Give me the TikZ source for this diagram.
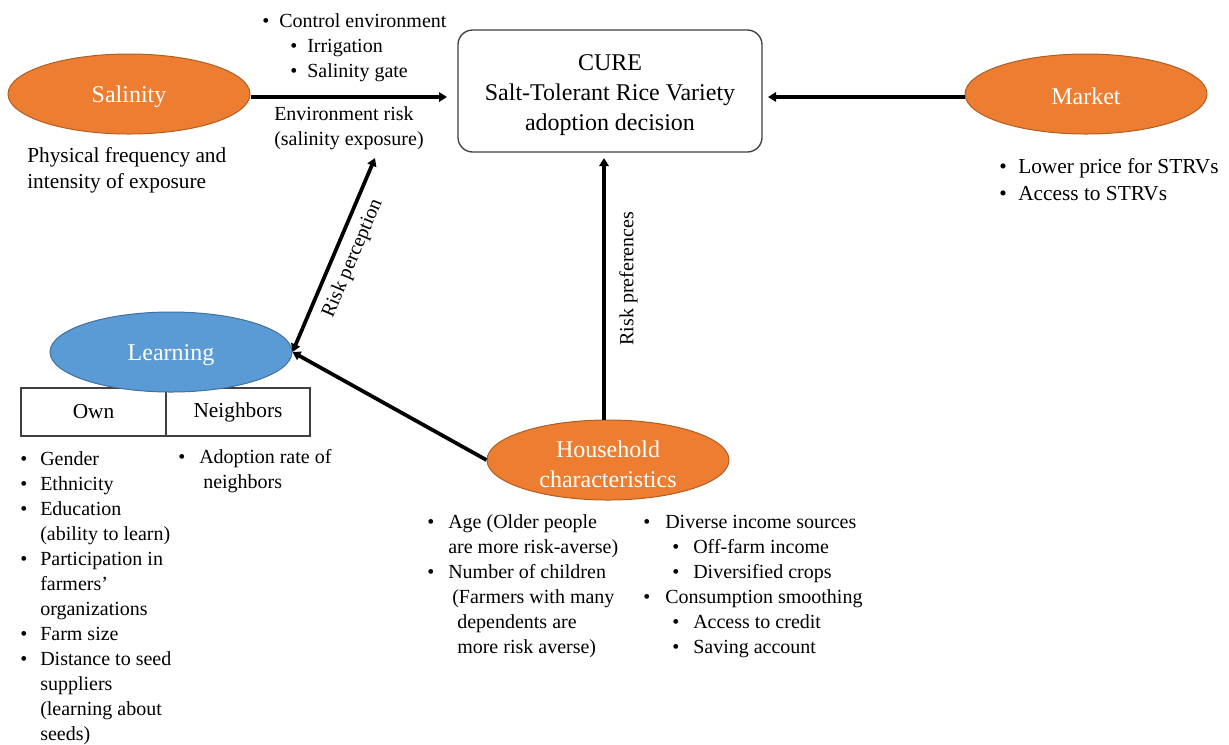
\documentclass[tikz,border=0pt]{standalone}
\usepackage{fontspec}
\setmainfont{Liberation Serif}
\usetikzlibrary{shapes.geometric,arrows.meta}
\definecolor{orangeF}{HTML}{ED7D31}
\definecolor{orangeD}{HTML}{B25D22}
\definecolor{blueF}{HTML}{5B9BD5}
\definecolor{blueD}{HTML}{41719C}
\definecolor{boxD}{HTML}{404040}
\begin{document}
\begin{tikzpicture}[x=0.75pt,y=-0.75pt,
  oval/.style={ellipse, draw=orangeD, line width=0.75pt, fill=orangeF, text=white,
    minimum width=181.5pt, minimum height=60pt, inner sep=0pt,
    font=\fontsize{18}{22.5}\selectfont, align=center,
    execute at begin node={\rule{0pt}{16.5pt}}},
  blueoval/.style={oval, draw=blueD, fill=blueF},
  ovaltext/.style={inner sep=0pt, text=white, font=\fontsize{18}{22.5}\selectfont, align=center},
  decision/.style={draw=boxD, line width=1pt, rounded corners=11pt, fill=white,
    minimum width=228pt, minimum height=91.5pt, inner sep=0pt},
  decisiontext/.style={inner sep=0pt, font=\fontsize{18}{22.5}\selectfont, align=center},
  cell/.style={draw=boxD, line width=0.9pt, minimum height=36pt, inner sep=0pt,
    font=\fontsize{16}{19}\selectfont},
  lst/.style={inner sep=0pt, anchor=base west, font=\fontsize{15}{18}\selectfont},
  lstb/.style={lst, font=\fontsize{16}{19}\selectfont},
  arr/.style={line width=2.8pt, -{Triangle[length=6pt,width=7pt]}},
  arrtwo/.style={line width=2.8pt, {Triangle[length=6pt,width=7pt]}-{Triangle[length=6pt,width=7pt]}},
  edgelab/.style={inner sep=6pt, font=\fontsize{15}{18}\selectfont}
]
\useasboundingbox (0,0) rectangle (1229,744);

% main nodes
\node[oval] (sal) at (129,94) {Salinity};
\node[decision] (cure) at (610,91) {};
\node[decisiontext] (curetext) at (610,95) {CURE\\Salt-Tolerant Rice Variety\\adoption decision};
\node[oval] (mkt) at (1086,94) {Market};
\node[cell, minimum width=108.75pt] (own) at (93.5,412) {Own};
\node[cell, minimum width=108pt] (nbr) at (238,412) {Neighbors};
\node[blueoval] (learn) at (171,352) {Learning};
\node[oval] (hh) at (608,460) {};
\node[ovaltext] (hhtext) at (608,464) {Household\\characteristics};

% connector end points
\coordinate (salend) at (447,97);
\coordinate (mktend) at (768,97);
\coordinate (rpend) at (375,158);
\coordinate (prefstart) at (604,420);
\coordinate (prefend) at (604,158);

% connectors
\draw[arr] (sal.east |- salend) -- (salend);
\draw[arr] (mkt.west |- mktend) -- (mktend);
\draw[arrtwo] (learn.east) -- (rpend)
  node[edgelab, pos=0.52, sloped, below] (rplab) {Risk perception};
\draw[arr] (hh.west) -- (learn.east);
\draw[arr] (prefstart) -- (prefend)
  node[edgelab, inner sep=10pt, pos=0.54, sloped, below] (preflab) {Risk preferences};

% texts around Salinity arrow
\node[lst] (b1) at (262,27) {•};
\node[lst] (t1) at (279,27) {Control environment};
\node[lst] (b2) at (290,52) {•};
\node[lst] (t2) at (307,52) {Irrigation};
\node[lst] (b3) at (290,77) {•};
\node[lst] (t3) at (307,77) {Salinity gate};
\node[lst] (er1) at (274,120) {Environment risk};
\node[lst] (er2) at (274,145) {(salinity exposure)};

\node[lstb] (ph1) at (27,162) {Physical frequency and};
\node[lstb] (ph2) at (27,188) {intensity of exposure};

% market list
\node[lstb] (mb1) at (999,173) {•};
\node[lstb] (mt1) at (1018,173) {Lower price for STRVs};
\node[lstb] (mb2) at (999,200) {•};
\node[lstb] (mt2) at (1018,200) {Access to STRVs};

% own list
\foreach \y [count=\i] in {465,490,515,565,640,665}
  \node[lst] (ob\i) at (20,\y) {•};
\foreach \t/\y [count=\i] in {{Gender}/465, {Ethnicity}/490, {Education}/515,
    {(ability to learn)}/540, {Participation in}/565, {farmers’}/590,
    {organizations}/615, {Farm size}/640, {Distance to seed}/665,
    {suppliers}/690, {(learning about}/715, {seeds)}/740}
  \node[lst] (ot\i) at (40,\y) {\t};

% neighbors list
\node[lst] (nb1) at (178,463) {•};
\node[lst] (nt1) at (199,463) {Adoption rate of};
\node[lst] (nt2) at (203,488) {neighbors};

% household left list
\node[lst] (hb1) at (427,528) {•};
\node[lst] (ht1) at (448,528) {Age (Older people};
\node[lst] (ht2) at (448,553) {are more risk-averse)};
\node[lst] (hb2) at (427,578) {•};
\node[lst] (ht3) at (448,578) {Number of children};
\node[lst] (ht4) at (452,603) {(Farmers with many};
\node[lst] (ht5) at (457,628) {dependents are};
\node[lst] (ht6) at (457,653) {more risk averse)};

% household right list
\node[lst] (rb1) at (643,528) {•};
\node[lst] (rt1) at (665,528) {Diverse income sources};
\node[lst] (rb2) at (672,553) {•};
\node[lst] (rt2) at (693,553) {Off-farm income};
\node[lst] (rb3) at (672,578) {•};
\node[lst] (rt3) at (693,578) {Diversified crops};
\node[lst] (rb4) at (643,603) {•};
\node[lst] (rt4) at (665,603) {Consumption smoothing};
\node[lst] (rb5) at (672,628) {•};
\node[lst] (rt5) at (693,628) {Access to credit};
\node[lst] (rb6) at (672,653) {•};
\node[lst] (rt6) at (693,653) {Saving account};
\end{tikzpicture}
\end{document}
